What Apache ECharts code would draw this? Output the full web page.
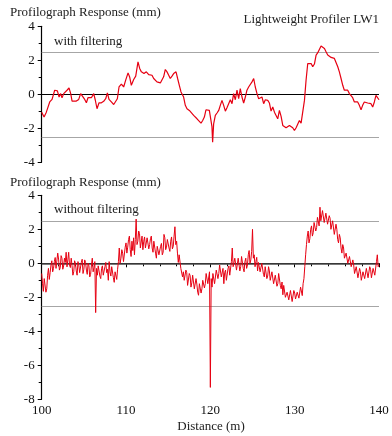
<!DOCTYPE html>
<html>
<head>
<meta charset="utf-8">
<script src="https://cdn.jsdelivr.net/npm/echarts@6/dist/echarts.min.js"></script>
<style>
  html, body { margin: 0; padding: 0; background: #fff; }
  #chart { width: 392px; height: 436px; }
</style>
</head>
<body>
<div id="chart"></div>
<script>
// 带滤波的剖面仪响应 (距离 m, 响应 mm)
var filteredDist = [
  100.0, 100.28, 100.55, 100.95, 101.23, 101.54, 101.86, 102.06, 102.25, 102.41,
  102.61, 102.81, 103.0, 103.24, 103.44, 103.6, 103.83, 104.11, 104.39, 104.62,
  104.82, 105.1, 105.3, 105.49, 105.69, 105.89, 106.17, 106.36, 106.56, 106.8,
  107.08, 107.35, 107.59, 107.79, 107.98, 108.26, 108.54, 108.77, 108.97, 109.17,
  109.45, 109.72, 109.96, 110.24, 110.43, 110.63, 110.91, 111.15, 111.42, 111.62,
  111.82, 112.13, 112.41, 112.69, 113.08, 113.28, 113.48, 113.67, 113.87, 114.07,
  114.27, 114.46, 114.66, 114.86, 115.06, 115.25, 115.45, 115.65, 115.93, 116.12,
  116.32, 116.52, 116.72, 116.83, 117.03, 117.23, 117.51, 117.74, 118.02, 118.22,
  118.42, 118.61, 118.89, 119.09, 119.29, 119.48, 119.68, 119.88, 120.08, 120.19,
  120.27, 120.39, 120.59, 120.79, 120.99, 121.18, 121.38, 121.58, 121.78, 121.97,
  122.17, 122.37, 122.57, 122.76, 122.96, 123.16, 123.36, 123.55, 123.75, 123.95,
  124.15, 124.34, 124.54, 124.74, 124.94, 125.14, 125.33, 125.53, 125.73, 125.93,
  126.12, 126.32, 126.52, 126.81, 127.0, 127.2, 127.4, 127.6, 127.8, 127.99,
  128.19, 128.39, 128.59, 128.78, 128.98, 129.18, 129.38, 129.57, 129.77, 129.97,
  130.17, 130.36, 130.56, 130.76, 130.96, 131.16, 131.35, 131.55, 131.75, 131.95,
  132.14, 132.34, 132.54, 132.74, 132.93, 133.13, 133.33, 133.53, 133.72, 133.92,
  134.12, 134.32, 134.51, 134.71, 134.91, 135.11, 135.3, 135.5, 135.7, 135.89,
  136.09, 136.29, 136.49, 136.68, 136.88, 137.08, 137.28, 137.47, 137.67, 137.87,
  138.06, 138.26, 138.46, 138.66, 138.85, 139.05, 139.25, 139.45, 139.64, 139.84,
  140.0
];
var filteredResp = [
  -1.05, -1.34, -1.05, -0.45, -0.3, 0.24, 0.2, -0.16, 0.04, -0.2,
  0.04, 0, 0.24, 0.37, 0.04, -0.4, -0.41, -0.4, -0.3, 0.04,
  -0.06, -0.3, -0.5, -0.2, -0.3, -0.2, 0.04, -0.35, -0.85, -0.5,
  -0.5, -0.41, -0.26, 0.08, -0.3, -0.45, -0.6, -0.7, -0.26, 0.43,
  0.6, 0.43, 0.83, 1.26, 1.02, 0.53, 0.87, 1.07, 1.91, 1.52,
  1.32, 1.22, 1.32, 1.16, 1.12, 0.93, 0.99, 0.73, 0.79, 0.67,
  0.73, 1.03, 1.46, 1.32, 1.12, 0.93, 1.07, 1.22, 1.32, 0.93,
  0.53, 0.14, 0.04, -0.16, -0.65, -0.85, -0.95, -0.99, -1.24, -1.18,
  -1.44, -1.38, -1.7, -1.54, -1.34, -0.91, -0.99, -0.95, -1.05, -1.9,
  -2.82, -1.74, -1.24, -1.1, -0.95, -0.65, -0.36, -0.65, -0.99, -0.79,
  -0.55, -0.32, -0.55, 0.04, -0.32, 0.24, -0.26, 0.34, -0.16, -0.51,
  -0.16, 0.24, 0.43, 0.34, 0.73, 0.93, 0.43, 0.04, -0.26, -0.36,
  -0.16, -0.55, -0.32, -0.36, -0.51, -0.99, -0.75, -1.05, -0.95, -1.44,
  -0.95, -1.3, -1.83, -1.74, -1.97, -2.03, -1.83, -1.74, -1.97, -2.13,
  -1.97, -1.89, -1.54, -1.7, -1.64, -0.36, 0.83, 1.81, 1.91, 1.81,
  1.62, 1.78, 2.31, 2.45, 2.5, 2.84, 2.76, 2.7, 2.5, 2.31,
  2.25, 2.17, 2.21, 2.11, 2.01, 1.62, 1.32, 0.93, 0.53, 0.24,
  0.14, 0.24, 0.04, -0.06, -0.2, -0.45, -0.51, -0.45, -0.65, -0.91,
  -0.65, -0.45, -0.55, -0.51, -0.59, -0.55, -0.75, -0.45, -0.06, -0.16,
  -0.32
];

// 未滤波的响应, 从 100 m 起每 0.1 m 一个读数 (每行 1 m)
var rawStart = 100;
var rawStep = 0.1;
var rawResp = [
  -0.6, -1.2, -1.65, -0.9, -1.0, -1.7, -1.5, -0.7, -0.3, -0.95,
  -0.55, -0.1, 0.15, -0.5, -0.3, 0.1, 0.34, -0.3, -0.2, 0.6,
  0.25, -0.4, -0.25, 0.45, 0.3, -0.35, -0.16, 0.3, 0.05, 0.65,
  -0.21, 0.2, 0.65, -0.1, -0.25, 0.3, -0.15, -0.7, -0.5, 0.15,
  0.0, -0.45, -0.7, 0.1, -0.1, -0.55, -0.46, 0.05, 0.24, -0.6,
  -0.35, 0.2, 0.05, -0.4, -0.65, 0.0, -0.15, -0.8, -0.65, -0.1,
  0.3, -0.5, -0.25, 0.1, -2.9, -0.3, -0.7, -0.15, -0.2, -0.75,
  -0.9, -0.3, -0.15, -0.7, -0.75, -0.2, 0.05, -0.55, -0.35, -1.0,
  0.1, -0.5, -0.75, -0.2, -0.3, -0.85, -1.12, -0.5, -0.4, -0.95,
  -0.35, 0.1, 0.9, 0.0, 0.3, 0.8, 0.6, 0.1, 0.2, 0.95,
  1.2, 0.6, 0.95, 1.4, 1.6, 0.8, 0.4, 1.3, 0.75, 1.5,
  0.5, 1.4, 2.6, 1.1, 1.3, 1.9, 1.75, 0.9, 1.0, 1.6,
  0.8, 1.3, 1.55, 0.9, 0.95, 1.5, 1.45, 0.85, 1.1, 1.45,
  1.6, 0.9, 0.65, 1.3, 1.19, 0.6, 0.3, 1.0, 1.08, 0.5,
  0.55, 1.0, 1.17, 0.5, 0.65, 1.7, 1.5, 0.8, 0.95, 1.4,
  1.5, 0.9, 0.7, 1.3, 1.55, 0.85, 1.0, 1.6, 2.15, 1.1,
  1.3, 0.6, 0.05, 0.5, 0.45, -0.3, -0.2, -0.8, -0.5, -1.0,
  -1.05, -0.4, -0.55, -1.3, -1.27, -0.6, -0.72, -1.4, -1.15, -0.7,
  -0.8, -1.5, -1.55, -0.9, -1.22, -1.7, -1.88, -1.2, -1.3, -1.75,
  -1.5, -1.0, -0.9, -1.45, -1.2, -0.6, -0.55, -1.2, -1.1, -0.5,
  -7.3, -0.9, -1.4, -0.6, -0.5, -1.2, -1.1, -0.4, -0.3, -0.9,
  -0.6, -0.1, -0.2, -0.8, -0.75, -0.3, -1.2, -0.55, -0.4, -1.0,
  -0.9, -0.3, -0.15, -0.7, -0.6, 0.1, 0.9, -0.2, -0.3, 0.3,
  0.2, -0.4, -0.35, 0.3, 0.25, -0.45, -0.2, 0.4, 0.35, -0.3,
  -0.5, 0.1, 0.3, -0.3, -0.1, 0.5, 0.75, 0.0, 0.2, 0.7,
  2.0, 0.3, 0.5, -0.2, 0.1, 0.35, -0.45, 0.05, 0.15, -0.5,
  -0.6, 0.0, -0.1, -0.65, -0.8, -0.2, -0.3, -0.9, -0.75, -0.2,
  -0.45, -1.0, -1.1, -0.5, -0.6, -1.2, -1.3, -0.7, -0.8, -1.35,
  -1.2, -0.6, -0.7, -1.3, -1.5, -1.1, -1.85, -1.3, -1.4, -2.0,
  -2.1, -1.7, -1.6, -2.15, -2.2, -1.6, -1.7, -2.25, -2.15, -1.6,
  -1.75, -2.1, -2.2, -1.7, -1.6, -2.05, -1.95, -1.4, -1.45, -1.9,
  -1.2, -0.9, -0.2, 0.5, 1.1, 1.6, 1.9, 1.2, 1.45, 2.0,
  2.2, 1.6, 1.8, 2.4, 2.5, 1.9, 2.1, 2.7, 2.75, 2.2,
  3.3, 2.5, 2.6, 3.1, 3.0, 2.4, 2.5, 2.95, 2.85, 2.3,
  2.3, 2.8, 2.65, 2.0, 1.9, 2.5, 2.4, 1.7, 1.8, 2.3,
  2.0, 1.4, 1.2, 1.7, 1.5, 0.9, 0.6, 1.1, 0.9, 0.3,
  0.2, 0.6, 0.5, 0.0, -0.1, 0.4, 0.3, -0.2, -0.3, 0.2,
  -0.1, -0.6, -0.7, -0.2, -0.3, -0.85, -0.9, -0.3, -0.5, -1.0,
  -1.1, -0.5, -0.4, -0.9, -0.8, -0.3, -0.2, -0.85, -0.75, -0.2,
  -0.35, -0.85, -0.9, -0.3, -0.2, -0.7, -0.6, 0.1, 0.5, -0.2,
  -0.1
];

// 参考线 (mm)
var limitLines = [2.5, 0, -2.5];

var serif = '"Liberation Serif", "DejaVu Serif", serif';
var red = '#e60012';

var chart = echarts.init(document.getElementById('chart'));

function refLines(zeroColor, zeroWidth) {
  return {
    silent: true,
    symbol: 'none',
    z: 1,
    label: { show: false },
    emphasis: { disabled: true },
    data: limitLines.map(function (v) {
      return {
        yAxis: v,
        lineStyle: v === 0
          ? { color: zeroColor, width: zeroWidth, type: 'solid' }
          : { color: '#a6a6a6', width: 1.2, type: 'solid' }
      };
    })
  };
}

function yAxisOf(idx, min, max) {
  return {
    gridIndex: idx,
    type: 'value',
    min: min,
    max: max,
    interval: 2,
    axisLine: { show: true, lineStyle: { color: '#000', width: 1.2 } },
    axisTick: { show: true, length: 4, lineStyle: { color: '#000' } },
    minorTick: { show: true, splitNumber: 2, length: 3, lineStyle: { color: '#000' } },
    splitLine: { show: false },
    axisLabel: { fontFamily: serif, fontSize: 13, color: '#111', margin: 7 }
  };
}

var option = {
  backgroundColor: '#fff',
  animation: false,
  grid: [
    { left: 41.7, top: 26.3, width: 337.3, height: 136 },
    { left: 41.7, top: 195.3, width: 337.3, height: 204 }
  ],
  xAxis: [
    { gridIndex: 0, type: 'value', min: 100, max: 140, show: false },
    {
      gridIndex: 1,
      type: 'value',
      min: 100,
      max: 140,
      interval: 10,
      axisLine: { show: true, lineStyle: { color: '#000', width: 1.2 } },
      axisTick: { show: true, length: 4, lineStyle: { color: '#000' } },
      minorTick: { show: true, splitNumber: 5, length: 3, lineStyle: { color: '#000' } },
      splitLine: { show: false },
      axisLabel: { fontFamily: serif, fontSize: 13, color: '#111', margin: 5 }
    }
  ],
  yAxis: [yAxisOf(0, -4, 4), yAxisOf(1, -8, 4)],
  series: [
    {
      name: 'with filtering',
      type: 'line',
      xAxisIndex: 0,
      yAxisIndex: 0,
      showSymbol: false,
      z: 3,
      lineStyle: { color: red, width: 1.2 },
      data: filteredDist.map(function (d, i) { return [d, filteredResp[i]]; }),
      markLine: refLines('#000', 1.2)
    },
    {
      name: 'without filtering',
      type: 'line',
      xAxisIndex: 1,
      yAxisIndex: 1,
      showSymbol: false,
      z: 3,
      lineStyle: { color: red, width: 1 },
      data: rawResp.map(function (v, i) { return [rawStart + i * rawStep, v]; }),
      markLine: refLines('#4a4a4a', 1.6)
    }
  ],
  graphic: [
    { type: 'text', x: 10, y: 13, style: { text: 'Profilograph Response (mm)', font: '13px ' + serif, fill: '#222', verticalAlign: 'middle' } },
    { type: 'text', x: 379, y: 20, style: { text: 'Lightweight Profiler LW1', font: '13px ' + serif, fill: '#222', align: 'right', verticalAlign: 'middle' } },
    { type: 'text', x: 54, y: 41.5, style: { text: 'with filtering', font: '13px ' + serif, fill: '#222', verticalAlign: 'middle' } },
    { type: 'text', x: 10, y: 183, style: { text: 'Profilograph Response (mm)', font: '13px ' + serif, fill: '#222', verticalAlign: 'middle' } },
    { type: 'text', x: 54, y: 210, style: { text: 'without filtering', font: '13px ' + serif, fill: '#222', verticalAlign: 'middle' } },
    { type: 'text', x: 211, y: 426.5, style: { text: 'Distance (m)', font: '13px ' + serif, fill: '#222', align: 'center', verticalAlign: 'middle' } }
  ]
};

chart.setOption(option);
</script>
</body>
</html>
